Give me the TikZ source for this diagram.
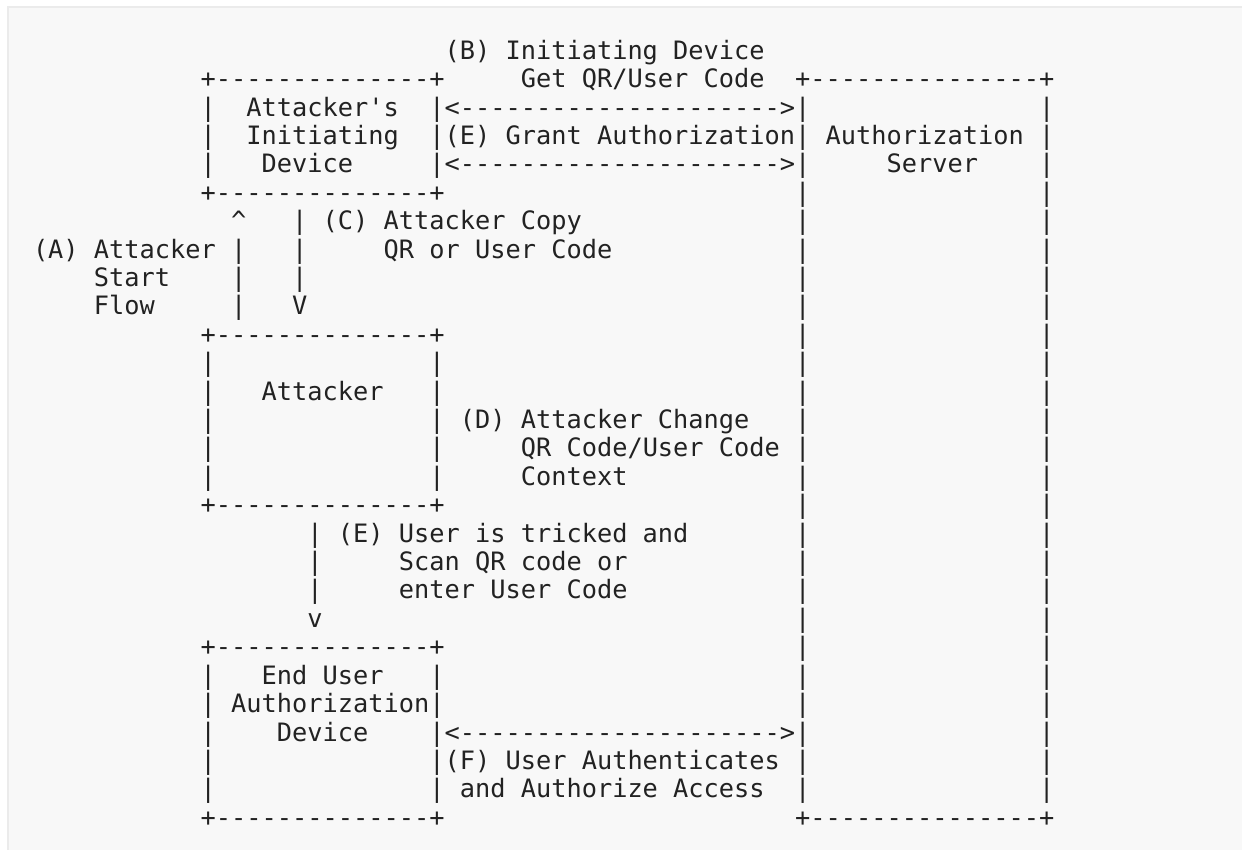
\documentclass[tikz,border=0pt]{standalone}
\usepackage{fontspec}
\newfontfamily\asciimono{DejaVu Sans Mono}
\definecolor{ink}{HTML}{222222}
\definecolor{panel}{HTML}{F8F8F8}
\definecolor{panelrule}{HTML}{EBEBEB}
\newcommand\seg[4]{\node[txt] (#1) at ({33.0+15.244*(#3)},{59.2+28.41*(#2)}) {#4};}
\begin{document}
\begin{tikzpicture}[x=1pt,y=-1pt,
  txt/.style={anchor=base west, inner sep=0pt, outer sep=0pt, text=ink,
    font=\asciimono\fontsize{25.32pt}{28.41pt}\selectfont}]
\useasboundingbox (0,0) rectangle (1242,850);
\fill[white] (0,0) rectangle (1242,850);
\filldraw[fill=panel, draw=panelrule, line width=2pt] (8,7) rectangle (1250,860);
% row 0-1
\seg{B1}{0}{27}{(B) Initiating Device}
\seg{boxAtop}{1}{11}{+--------------+}
\seg{B2}{1}{32}{Get QR/User Code}
\seg{serverTop}{1}{50}{+---------------+}
% rows 2-4
\seg{l2}{2}{11}{|}
\seg{t2}{2}{14}{Attacker's}
\seg{arrowB}{2}{26}{|<--------------------->|}
\seg{l3}{3}{11}{|}
\seg{t3}{3}{14}{Initiating}
\seg{E1}{3}{26}{|(E) Grant Authorization|}
\seg{srv1}{3}{52}{Authorization}
\seg{l4}{4}{11}{|}
\seg{t4}{4}{15}{Device}
\seg{arrowE}{4}{26}{|<--------------------->|}
\seg{srv2}{4}{56}{Server}
\seg{boxAbot}{5}{11}{+--------------+}
% rows 6-9
\seg{up6}{6}{13}{\textasciicircum}
\seg{dn6}{6}{17}{|}
\seg{C1}{6}{19}{(C) Attacker Copy}
\seg{A1}{7}{0}{(A) Attacker}
\seg{up7}{7}{13}{|}
\seg{dn7}{7}{17}{|}
\seg{C2}{7}{23}{QR or User Code}
\seg{A2}{8}{4}{Start}
\seg{up8}{8}{13}{|}
\seg{dn8}{8}{17}{|}
\seg{A3}{9}{4}{Flow}
\seg{up9}{9}{13}{|}
\seg{dn9}{9}{17}{V}
% attacker box
\seg{boxBtop}{10}{11}{+--------------+}
\foreach \k in {11,...,15}{
  \seg{bl\k}{\k}{11}{|}
  \seg{br\k}{\k}{26}{|}
}
\seg{att}{12}{15}{Attacker}
\seg{D1}{13}{28}{(D) Attacker Change}
\seg{D2}{14}{32}{QR Code/User Code}
\seg{D3}{15}{32}{Context}
\seg{boxBbot}{16}{11}{+--------------+}
% rows 17-20
\seg{e17}{17}{18}{|}
\seg{E2}{17}{20}{(E) User is tricked and}
\seg{e18}{18}{18}{|}
\seg{E3}{18}{24}{Scan QR code or}
\seg{e19}{19}{18}{|}
\seg{E4}{19}{24}{enter User Code}
\seg{e20}{20}{18}{v}
% end user box
\seg{boxCtop}{21}{11}{+--------------+}
\foreach \k in {22,...,26}{
  \seg{cl\k}{\k}{11}{|}
}
\seg{t22}{22}{15}{End User}
\seg{cr22}{22}{26}{|}
\seg{t23}{23}{13}{Authorization|}
\seg{t24}{24}{16}{Device}
\seg{arrowF}{24}{26}{|<--------------------->|}
\seg{F1}{25}{26}{|(F) User Authenticates}
\seg{cr26}{26}{26}{|}
\seg{F2}{26}{28}{and Authorize Access}
\seg{boxCbot}{27}{11}{+--------------+}
% server box sides
\foreach \k in {5,...,23,25,26}{
  \seg{sl\k}{\k}{50}{|}
}
\foreach \k in {2,...,26}{
  \seg{sr\k}{\k}{66}{|}
}
\seg{serverBot}{27}{50}{+---------------+}
\end{tikzpicture}
\end{document}
